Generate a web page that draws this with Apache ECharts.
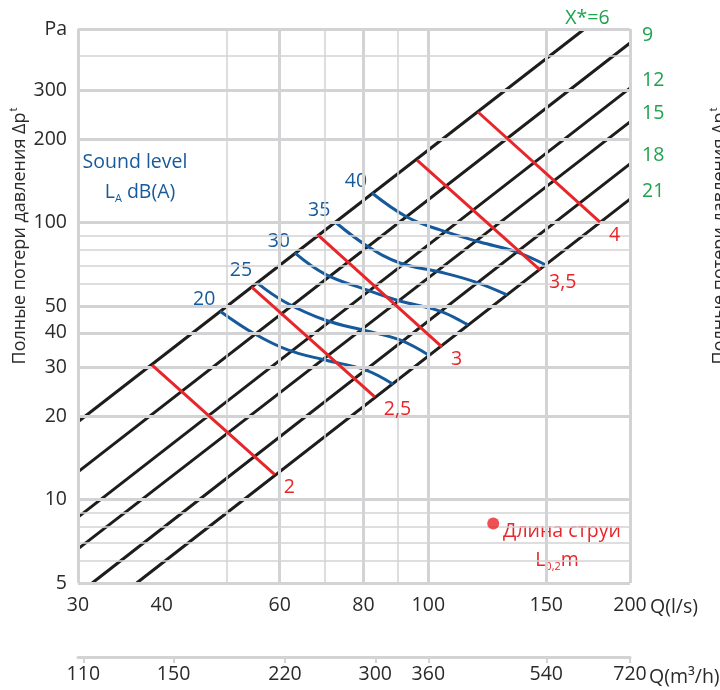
<!DOCTYPE html>
<html><head><meta charset="utf-8">
<script src="https://cdn.jsdelivr.net/npm/echarts@6/dist/echarts.min.js"></script>
<style>html,body{margin:0;padding:0;background:#fff}#c{width:720px;height:690px}</style>
</head><body><div id="c"></div>
<script>
// ---------------- data ----------------
const xTicksLs   = [30, 40, 60, 80, 100, 150, 200];
const xTicksM3h  = [110, 150, 220, 300, 360, 540, 720];
const yTicks     = [5, 10, 20, 30, 40, 50, 100, 200, 300, 500];
const xGridMajor = [30, 60, 80, 100, 150, 200];
const xGridMinor = [50, 70, 90];
const yGridMajor = [5, 10, 20, 30, 40, 50, 100, 200, 300, 500];
const yGridMinor = [6, 7, 8, 9, 60, 70, 80, 90, 400];

const factorLabels = ['X*=6', '9', '12', '15', '18', '21'];
const factor6  = [[30, 19.1], [171, 500]];
const factor9  = [[30, 12.6], [200, 445]];
const factor12 = [[30, 8.65], [200, 306]];
const factor15 = [[30, 6.64], [200, 231]];
const factor18 = [[31.5, 5], [200, 163]];
const factor21 = [[36.7, 5], [200, 121.6]];

const throwLabels = ['2', '2,5', '3', '3,5', '4'];
const throw2  = [[38.7, 30.6], [59.0, 12.3]];
const throw25 = [[54.5, 58.5], [83.2, 23.5]];
const throw3  = [[68.4, 90.3], [104.8, 35.6]];
const throw35 = [[96.2, 168], [146.8, 67.5]];
const throw4  = [[118.6, 250.8], [180.4, 100.5]];

const soundLabels = ['20', '25', '30', '35', '40'];
const sound20 = [[48.9,47.9],[55.1,39.6],[61.7,34.7],[70.1,31.9],[80.5,29.4],[88.6,26.1]];
const sound25 = [[55.5,60.6],[61.1,51.7],[70.1,44.5],[81.0,40.6],[90.7,37.7],[100.6,33.0]];
const sound30 = [[63.2,77.7],[70.1,65.2],[81.0,57.1],[90.7,52.1],[104.1,47.9],[114.6,42.7]];
const sound35 = [[72.6,100.5],[81.0,82.4],[90.7,71.5],[104.1,66.3],[117.4,61.1],[131.1,54.8]];
const sound40 = [[82.4,127.9],[92.9,104.8],[104.1,94.1],[119.4,85.1],[135.6,78.3],[149.8,70.3]];

const legendDot = [125, 8.2];

// ---------------- style ----------------
const BLACK = '#1d1d1b', RED = '#e8262a', BLUE = '#165a9b', GREEN = '#1ea34d';
const GRID = '#d3d3d5', TEXT = '#2a2a2a', FONT = 'Open Sans';
const FS = 19.5;

const factorLines = [factor6, factor9, factor12, factor15, factor18, factor21];
const throwLines = [throw2, throw25, throw3, throw35, throw4];
const soundCurves = [sound20, sound25, sound30, sound35, sound40];

const series = [];

// grid lines
const gl = [];
xGridMajor.forEach(v => gl.push({xAxis: v, lineStyle: {width: 3, color: GRID, type: 'solid'}}));
xGridMinor.forEach(v => gl.push({xAxis: v, lineStyle: {width: 1.5, color: GRID, type: 'solid'}}));
yGridMajor.forEach(v => gl.push({yAxis: v, lineStyle: {width: 3, color: GRID, type: 'solid'}}));
yGridMinor.forEach(v => gl.push({yAxis: v, lineStyle: {width: 1.5, color: GRID, type: 'solid'}}));
series.push({
  type: 'line', data: [], z: 1, silent: true,
  markLine: {silent: true, symbol: 'none', animation: false, label: {show: false}, data: gl}
});

factorLines.forEach((pts, i) => {
  series.push({
    type: 'line', z: 3, symbol: 'circle', symbolSize: 0, showSymbol: true,
    lineStyle: {color: BLACK, width: 3}, itemStyle: {color: BLACK},
    data: [
      {value: pts[0], label: {show: false}},
      {value: pts[1], label: {
        show: true, formatter: factorLabels[i], color: GREEN, fontFamily: FONT, fontSize: FS,
        position: i === 0 ? 'top' : 'right', distance: i === 0 ? 1 : 12,
        offset: i === 0 ? [3, 0] : [0, -8]
      }}
    ]
  });
});

// sound-level curves: one smooth path per curve, drawn through the axes (api.coord)
soundCurves.forEach((pts, i) => {
  series.push({
    type: 'custom', z: 4, silent: true,
    data: pts,
    encode: {x: 0, y: 1},
    renderItem: (params, api) => {
      if (params.dataIndex !== 0) return null;
      const cps = pts.map(p => api.coord(p));
      const p0 = cps[0];
      return {
        type: 'group',
        children: [
          {type: 'polyline', shape: {points: cps, smooth: 0.4},
           style: {stroke: BLUE, lineWidth: 3, fill: null}},
          {type: 'text', x: p0[0] - 16, y: p0[1] - 2,
           style: {text: soundLabels[i], fill: BLUE, fontFamily: FONT, fontSize: FS,
                   align: 'center', verticalAlign: 'bottom', backgroundColor: '#fff', padding: [0, 2]}}
        ]
      };
    }
  });
});

throwLines.forEach((pts, i) => {
  series.push({
    type: 'line', z: 5, symbol: 'circle', symbolSize: 0, showSymbol: true,
    lineStyle: {color: RED, width: 3}, itemStyle: {color: RED},
    data: [
      {value: pts[0], label: {show: false}},
      {value: pts[1], label: {
        show: true, formatter: throwLabels[i], color: RED, fontFamily: FONT, fontSize: FS,
        position: 'right', distance: 9, offset: [0, 13]
      }}
    ]
  });
});

series.push({
  type: 'scatter', z: 6, symbolSize: 12, itemStyle: {color: RED}, data: [legendDot]
});

const labelStyle = {color: TEXT, fontFamily: FONT, fontSize: FS};

const option = {
  animation: false,
  backgroundColor: '#fff',
  grid: {left: 78, right: 90, top: 29, bottom: 107, containLabel: false, outerBoundsMode: 'none'},
  xAxis: [
    {
      type: 'log', logBase: 10, min: 30, max: 200, position: 'bottom',
      axisLine: {show: false}, axisTick: {show: false}, splitLine: {show: false},
      axisLabel: Object.assign({customValues: xTicksLs, margin: 12}, labelStyle)
    },
    {
      type: 'log', logBase: 10, min: 108, max: 720, position: 'bottom', offset: 74,
      axisLine: {show: true, lineStyle: {color: GRID, width: 3}},
      axisTick: {show: true, customValues: xTicksM3h, length: 6, lineStyle: {color: GRID, width: 2}},
      splitLine: {show: false},
      axisLabel: Object.assign({customValues: xTicksM3h, margin: 7}, labelStyle)
    }
  ],
  yAxis: {
    type: 'log', logBase: 10, min: 5, max: 500,
    axisLine: {show: false}, axisTick: {show: false}, splitLine: {show: false},
    axisLabel: Object.assign({customValues: yTicks, margin: 11,
      formatter: v => (Math.abs(v - 500) < 1 ? 'Pa' : String(Math.round(v)))}, labelStyle)
  },
  graphic: [
    {type: 'text', x: 20, y: 236, rotation: Math.PI / 2, silent: true,
     style: {text: '{a|Полные потери давления Δp}{s|t}', align: 'center', verticalAlign: 'middle',
       rich: {a: {fontFamily: FONT, fontSize: 18, fill: TEXT, lineHeight: 24},
              s: {fontFamily: FONT, fontSize: 11, fill: TEXT, lineHeight: 12, padding: [0, 0, 12, 1]}}}},
    {type: 'text', x: 720, y: 236, rotation: Math.PI / 2, silent: true,
     style: {text: '{a|Полные потери давления Δp}{s|t}', align: 'center', verticalAlign: 'middle',
       rich: {a: {fontFamily: FONT, fontSize: 18, fill: TEXT, lineHeight: 24},
              s: {fontFamily: FONT, fontSize: 11, fill: TEXT, lineHeight: 12, padding: [0, 0, 12, 1]}}}},
    {type: 'text', x: 650, y: 607, silent: true,
     style: {text: 'Q(l/s)', fontFamily: FONT, fontSize: FS, fill: TEXT, verticalAlign: 'middle'}},
    {type: 'text', x: 649, y: 677, silent: true,
     style: {text: 'Q(m³/h)', fontFamily: FONT, fontSize: FS, fill: TEXT, verticalAlign: 'middle'}},
    {type: 'text', x: 135, y: 162, silent: true,
     style: {text: 'Sound level', fontFamily: FONT, fontSize: FS, fill: BLUE, align: 'center', verticalAlign: 'middle'}},
    {type: 'text', x: 140, y: 192, silent: true,
     style: {text: '{a|L}{s|A}{a| dB(A)}', align: 'center', verticalAlign: 'middle',
       rich: {a: {fontFamily: FONT, fontSize: FS, fill: BLUE, lineHeight: 30},
              s: {fontFamily: FONT, fontSize: 11, fill: BLUE, lineHeight: 16, padding: [14, 0, 0, 0]}}}},
    {type: 'text', x: 562, y: 531, silent: true,
     style: {text: 'Длина струи', fontFamily: FONT, fontSize: FS, fill: RED, align: 'center', verticalAlign: 'middle'}},
    {type: 'text', x: 557, y: 560, silent: true,
     style: {text: '{a|L}{s|0,2}{a|m}', align: 'center', verticalAlign: 'middle',
       rich: {a: {fontFamily: FONT, fontSize: FS, fill: RED, lineHeight: 30},
              s: {fontFamily: FONT, fontSize: 11, fill: RED, lineHeight: 16, padding: [14, 0, 0, 0]}}}}
  ],
  series: series
};

const chart = echarts.init(document.getElementById('c'), null, {renderer: 'canvas'});
chart.setOption(option);
</script>
</body></html>
